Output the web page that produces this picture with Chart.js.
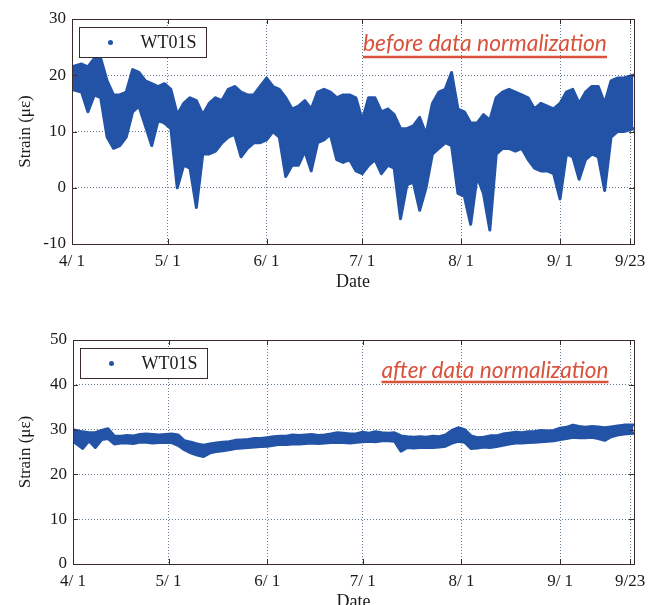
<!DOCTYPE html>
<html>
<head>
<meta charset="utf-8">
<script src="https://cdn.jsdelivr.net/npm/chart.js@4.4.0/dist/chart.umd.min.js"></script>
<style>
  html, body { margin: 0; padding: 0; background: #fff; overflow: hidden; width: 661px; height: 605px; }
  .panel { position: absolute; left: 0; width: 661px; height: 300px; }
  #topPanel { top: 0; }
  #bottomPanel { top: 320px; }
</style>
</head>
<body>
<div class="panel" id="topPanel"><canvas id="before" width="661" height="300"></canvas></div>
<div class="panel" id="bottomPanel"><canvas id="after" width="661" height="300"></canvas></div>
<script>
// days since 4/1 (one sample per ~2 days, ends pinned to the axis limits)
const dayCenters = [0, 3, 5, 7, 9, 11, 13, 15, 17, 19, 21, 23, 25, 27, 29, 31, 33, 35, 37, 39,
  41, 43, 45, 47, 49, 51, 53, 55, 57, 59, 61, 63, 65, 67, 69, 71, 73, 75, 77, 79,
  81, 83, 85, 87, 89, 91, 93, 95, 97, 99, 101, 103, 105, 107, 109, 111, 113, 115, 117, 119,
  121, 123, 125, 127, 129, 131, 133, 135, 137, 139, 141, 143, 145, 147, 149, 151, 153, 155, 157, 159,
  161, 163, 165, 167, 169, 171, 173, 176]

// strain range (min / max) around each sample, before normalization
const beforeHigh = [21.5, 22, 21.5, 23, 23, 19, 16.5, 16.5, 17, 21,
  20.5, 19, 18.5, 18, 18.5, 17.5, 13, 15, 16, 15.5,
  13, 15, 16, 15.5, 17.5, 18, 17, 16.5, 16.5, 18,
  19.5, 18, 17.5, 16, 14, 14.5, 15.5, 14, 17, 17.5,
  17, 16, 16.5, 16.5, 16, 12, 16, 16, 13.5, 14,
  13, 10.5, 10.5, 11, 12.5, 9.5, 15, 17, 17.5, 20.5,
  14, 13.5, 11.5, 11.5, 13, 12, 16, 17, 17.5, 17,
  16.5, 16, 14, 15, 14.5, 14, 15, 17, 17.5, 15,
  17, 18, 18, 15, 19, 19.5, 19.5, 20]
const beforeLow = [17.5, 17, 13.5, 16.5, 16, 9, 7, 7.5, 9, 13.5,
  14.5, 11, 7.5, 12, 11.5, 10.5, 0, 4, 3.5, -3.5,
  6, 6, 6.5, 8, 9, 9.5, 5.5, 7, 8, 8,
  8.5, 10, 9, 2, 4, 4, 6.5, 3, 8, 8.5,
  9.5, 5, 4.5, 5, 3, 2.5, 4, 5, 2.5, 4,
  3.5, -5.5, 0.5, 1, -4, 0, 6, 7, 8, 7.5,
  -1, -1.5, -6.5, 2, -1, -7.5, 6, 7, 7, 6.5,
  7, 5, 3.5, 3, 3, 2.5, -2, 6, 5.5, 1.5,
  5, 6, 5.5, -0.5, 9, 10, 10, 10.5]

// after normalization
const afterHigh = [30, 29.5, 29.3, 29.3, 29.8, 30.2, 28.5, 28.5, 28.7, 28.6,
  28.9, 29, 28.9, 28.8, 28.9, 29, 28.8, 27.5, 27.2, 26.8,
  26.5, 26.8, 27, 27.2, 27.3, 27.6, 27.7, 27.8, 28, 28,
  28.2, 28.4, 28.5, 28.5, 28.8, 28.7, 28.8, 28.9, 28.7, 28.8,
  29, 29.3, 29.2, 29, 29.1, 29.4, 29.2, 29.5, 29.3, 29.2,
  29.3, 28.6, 28.4, 28.3, 28.4, 28.3, 28.5, 28.4, 28.8, 29.8,
  30.4, 30, 28.6, 28.2, 28.3, 28.6, 28.6, 29, 29.2, 29.4,
  29.3, 29.5, 29.6, 29.8, 29.7, 29.8, 30.3, 30.5, 31, 30.7,
  30.5, 30.7, 30.6, 30.4, 30.6, 30.8, 31, 31]
const afterLow = [27.4, 25.8, 27.5, 26, 27.8, 28, 26.8, 27, 27, 26.9,
  27.2, 27.2, 27, 27.1, 27.2, 27.1, 26.5, 25.5, 24.8, 24.3,
  24, 24.8, 25.1, 25.3, 25.5, 25.8, 25.9, 26, 26.1, 26.2,
  26.3, 26.5, 26.7, 26.7, 26.8, 26.8, 26.9, 27, 26.9, 27,
  27.1, 27.2, 27.1, 27, 27.2, 27.3, 27.4, 27.3, 27.5, 27.5,
  27.4, 25.2, 26, 25.9, 26, 26, 26, 26.1, 26.3, 27,
  27.4, 27.2, 25.8, 25.9, 26.1, 26, 26.2, 26.5, 26.8, 27,
  27, 27.1, 27.2, 27.3, 27.4, 27.5, 27.8, 28, 28.3, 28.2,
  28.2, 28.3, 28, 27.6, 28.4, 28.8, 29, 29.2]

const tickDays = [0, 30, 61, 91, 122, 153, 175]
const tickLabels = ['4/ 1', '5/ 1', '6/ 1', '7/ 1', '8/ 1', '9/ 1', '9/23']
const seriesName = 'WT01S'

const BLUE = '#2253a6'
const INK = '#1a1a1a'
const GRID = '#627b92'
const NOTE_RED = '#d9533c'
const SERIF = "'Liberation Serif', 'Times New Roman', serif"

function decorations(note) {
  return {
    id: 'decorations',
    afterDatasetsDraw(chart) {
      const { ctx, chartArea: a, scales } = chart
      ctx.save()
      ctx.strokeStyle = '#3a2b2b'
      ctx.lineWidth = 1
      ctx.strokeRect(Math.round(a.left) + 0.5, Math.round(a.top) + 0.5,
        Math.round(a.right - a.left), Math.round(a.bottom - a.top))
      ctx.beginPath()
      tickDays.forEach(d => {
        const x = Math.round(scales.x.getPixelForValue(d)) + 0.5
        ctx.moveTo(x, a.top); ctx.lineTo(x, a.top + 5)
        ctx.moveTo(x, a.bottom); ctx.lineTo(x, a.bottom - 5)
      })
      scales.y.ticks.forEach(t => {
        const y = Math.round(scales.y.getPixelForValue(t.value)) + 0.5
        ctx.moveTo(a.left, y); ctx.lineTo(a.left + 5, y)
        ctx.moveTo(a.right, y); ctx.lineTo(a.right - 5, y)
      })
      ctx.stroke()

      // legend box
      const lx = Math.round(a.left) + 7.5, ly = Math.round(a.top) + 8.5
      ctx.fillStyle = '#fff'
      ctx.fillRect(lx, ly, 127, 30)
      ctx.strokeStyle = '#3a2b2b'
      ctx.strokeRect(lx, ly, 127, 30)
      ctx.fillStyle = BLUE
      ctx.beginPath()
      ctx.arc(lx + 31, ly + 15, 2.5, 0, Math.PI * 2)
      ctx.fill()
      ctx.fillStyle = INK
      ctx.font = '18px ' + SERIF
      ctx.textBaseline = 'middle'
      ctx.textAlign = 'left'
      ctx.fillText(seriesName, lx + 61, ly + 16)

      // red note
      ctx.font = 'italic 20px Lato'
      const w20 = ctx.measureText(note.text).width
      const size = 20 * note.width / w20
      ctx.font = 'italic ' + size.toFixed(2) + 'px Lato'
      ctx.fillStyle = NOTE_RED
      ctx.textAlign = 'center'
      const cx = a.left + note.dx
      ctx.fillText(note.text, cx, a.top + note.dy)
      ctx.strokeStyle = NOTE_RED
      ctx.lineWidth = 2.5
      ctx.beginPath()
      ctx.moveTo(cx - note.width / 2, a.top + note.uy)
      ctx.lineTo(cx + note.width / 2, a.top + note.uy)
      ctx.stroke()
      ctx.restore()
    }
  }
}

function makeChart(id, lows, highs, yMin, yMax, note) {
  const upper = dayCenters.map((d, i) => ({ x: d, y: highs[i] }))
  const lower = dayCenters.map((d, i) => ({ x: d, y: lows[i] }))
  const band = {
    borderColor: BLUE,
    backgroundColor: BLUE,
    borderWidth: 3,
    pointRadius: 0,
    tension: 0,
    borderJoinStyle: 'round',
    borderCapStyle: 'round'
  }
  return new Chart(document.getElementById(id), {
    type: 'line',
    data: {
      datasets: [
        { ...band, label: seriesName, data: upper, fill: '+1' },
        { ...band, label: seriesName + ' min', data: lower, fill: false }
      ]
    },
    options: {
      responsive: false,
      animation: false,
      layout: { padding: { left: 0, right: 27, top: note.top, bottom: 0 } },
      plugins: { legend: { display: false }, tooltip: { enabled: false } },
      scales: {
        x: {
          type: 'linear',
          min: 0,
          max: 176.2,
          afterBuildTicks: scale => { scale.ticks = tickDays.map(v => ({ value: v })) },
          afterFit: scale => { scale.height = 56 },
          ticks: {
            autoSkip: false,
            maxRotation: 0,
            padding: 7,
            color: INK,
            font: { family: SERIF, size: 17 },
            callback: v => tickLabels[tickDays.indexOf(v)]
          },
          grid: { color: GRID, lineWidth: 1, drawTicks: false },
          border: { display: false, dash: [1, 2] },
          title: {
            display: true,
            text: 'Date',
            color: INK,
            font: { family: SERIF, size: 18 },
            padding: { top: 0, bottom: 7 }
          }
        },
        y: {
          min: yMin,
          max: yMax,
          afterFit: scale => { scale.width = note.left },
          ticks: {
            stepSize: 10,
            padding: 6,
            color: INK,
            font: { family: SERIF, size: 17 }
          },
          grid: { color: GRID, lineWidth: 1, drawTicks: false },
          border: { display: false, dash: [1, 2] },
          title: {
            display: true,
            text: 'Strain (με)',
            color: INK,
            font: { family: SERIF, size: 17 },
            padding: { top: 15, bottom: 0 }
          }
        }
      }
    },
    plugins: [decorations(note)]
  })
}

makeChart('before', beforeLow, beforeHigh, -10, 30,
  { text: 'before data normalization', width: 244, dx: 413, dy: 25, uy: 38, top: 19, left: 72 })
makeChart('after', afterLow, afterHigh, 0, 50,
  { text: 'after data normalization', width: 227, dx: 422, dy: 31, uy: 42, top: 20, left: 73 })
</script>
</body>
</html>
